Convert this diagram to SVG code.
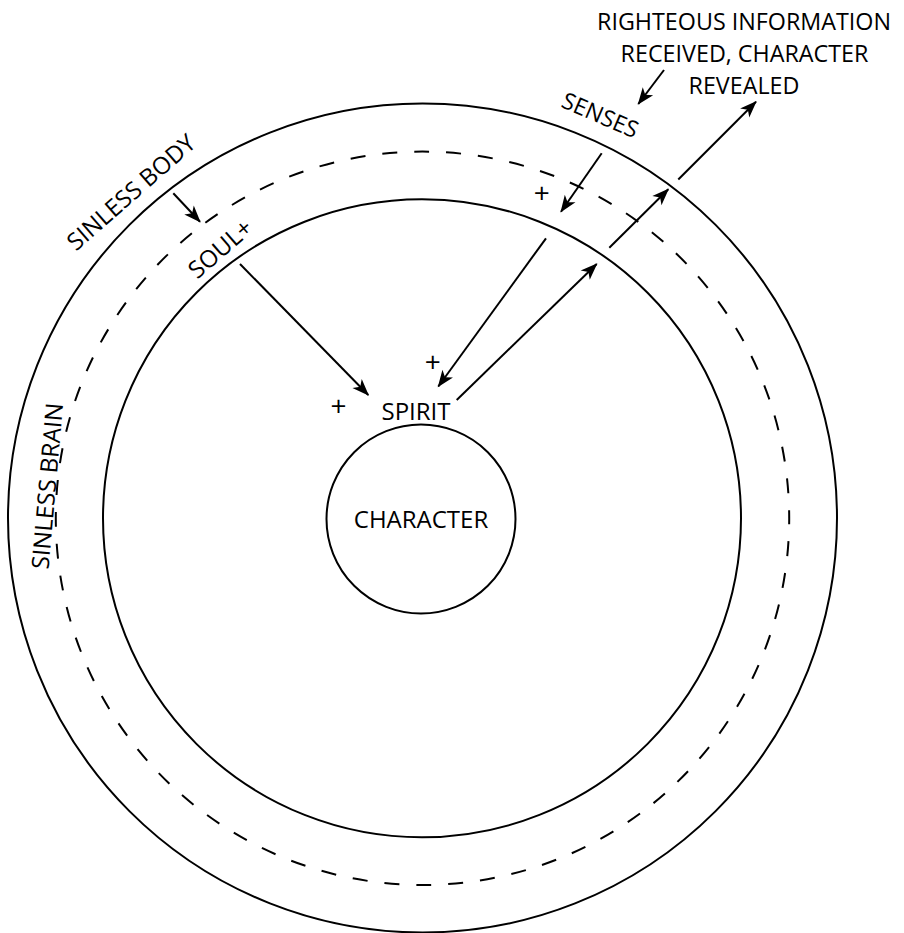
<svg xmlns="http://www.w3.org/2000/svg" width="904" height="933" viewBox="0 0 904 933">
<style>
.ring{fill:none;stroke:#000;stroke-width:2}
.dash{fill:none;stroke:#000;stroke-width:2;stroke-dasharray:15 17;stroke-dashoffset:9}
.lbl{font-family:"Open Sans","Liberation Sans",sans-serif;font-size:24px;fill:#000;text-anchor:middle}
.plus{font-size:28px}
.con line{stroke:#000;stroke-width:2;marker-end:url(#ah)}
</style>
<defs>
<marker id="ah" viewBox="-1 -8 20 16" refX="16" refY="0" markerWidth="20" markerHeight="16" markerUnits="userSpaceOnUse" orient="auto">
<path d="M0,-6.5 L17,0 L0,6.5 L4.5,0 Z" fill="#000"/>
</marker>
</defs>
<rect width="904" height="933" fill="#fff"/>
<g id="body"><circle class="ring" cx="422.5" cy="518" r="414.5"/></g>
<g id="brain"><circle class="dash" cx="422.5" cy="518.3" r="366.7"/></g>
<g id="soul"><circle class="ring" cx="422" cy="518.3" r="319"/></g>
<g id="character"><circle class="ring" cx="421" cy="519" r="94.5"/>
<text class="lbl" x="421" y="528">CHARACTER</text></g>
<g id="spirit"><text class="lbl" x="416" y="420">SPIRIT</text></g>
<g id="labels">
<text class="lbl" style="font-size:23.3px" x="744" y="30">RIGHTEOUS INFORMATION</text>
<text class="lbl" style="font-size:23.3px" x="744.5" y="62">RECEIVED, CHARACTER</text>
<text class="lbl" style="font-size:23.3px" x="744" y="93.5">REVEALED</text>
<text class="lbl" style="font-size:23px" transform="translate(597,122.5) rotate(23.3)">SENSES</text>
<text class="lbl" transform="translate(136.7,198.5) rotate(-41.2)">SINLESS BODY</text>
<text class="lbl" transform="translate(225.8,255) rotate(-41)">SOUL+</text>
<text class="lbl" transform="translate(55.8,486.7) rotate(-84.9)">SINLESS BRAIN</text>
<text class="lbl plus" x="338.5" y="416">+</text>
<text class="lbl plus" x="432.7" y="372">+</text>
<text class="lbl plus" x="541.7" y="203">+</text>
</g>
<g id="connectors" class="con">
<line x1="664" y1="70" x2="638.3" y2="104"/>
<line x1="601.7" y1="153.3" x2="561" y2="211.7"/>
<line x1="173.3" y1="193.3" x2="200" y2="221.7"/>
<line x1="240" y1="264" x2="368.3" y2="395"/>
<line x1="546" y1="238.3" x2="438.3" y2="386.5"/>
<line x1="456.7" y1="400" x2="596.7" y2="264"/>
<line x1="609.3" y1="247.7" x2="668.3" y2="189.3"/>
<line x1="678.3" y1="179.5" x2="756" y2="101.7"/>
</g>
</svg>
